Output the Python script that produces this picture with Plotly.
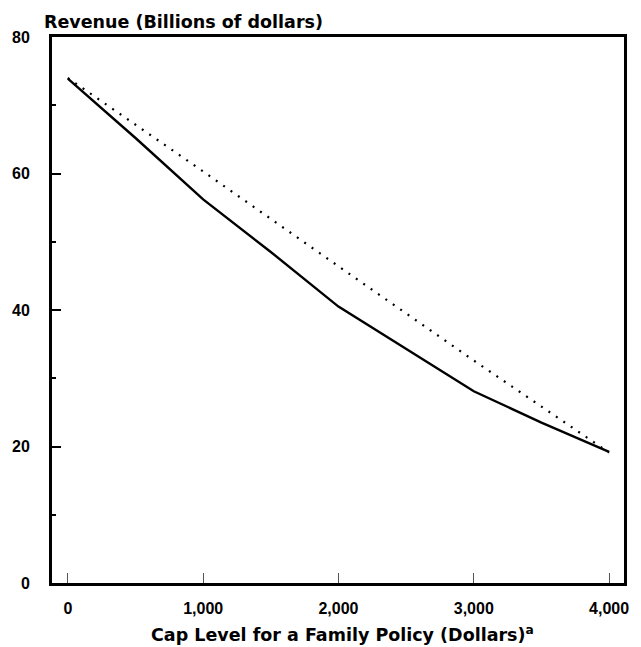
import plotly.graph_objects as go

cap_levels = [0, 500, 1000, 1500, 2000, 2500, 3000, 3500, 4000]
revenue_solid = [73.9, 65.2, 56.2, 48.5, 40.5, 34.3, 28.1, 23.5, 19.2]

cap_levels_dotted = [0, 1000, 2000, 3000, 4000]
revenue_dotted = [74.0, 60.3, 46.4, 32.6, 19.1]

x_tickvals = [0, 1000, 2000, 3000, 4000]
x_ticktext = ["0", "1,000", "2,000", "3,000", "4,000"]
y_tickvals = [0, 20, 40, 60, 80]
y_ticktext = ["0", "20", "40", "60", "80"]

FONT = "Liberation Sans, Arial, Helvetica, sans-serif"
TITLE_FONT = "DejaVu Sans, Liberation Sans, sans-serif"

fig = go.Figure()
fig.add_trace(go.Scatter(x=cap_levels_dotted, y=revenue_dotted, mode="lines",
                         line=dict(color="black", width=2.2, dash="2px,7px"),
                         showlegend=False, hoverinfo="skip"))
fig.add_trace(go.Scatter(x=cap_levels, y=revenue_solid, mode="lines",
                         line=dict(color="black", width=2.4),
                         showlegend=False, hoverinfo="skip"))

fig.update_layout(
    width=641, height=647,
    margin=dict(l=46, r=15, t=37, b=64),
    paper_bgcolor="white", plot_bgcolor="white",
    font=dict(family=FONT, color="black"),
    xaxis=dict(range=[-117, 4110], tickvals=x_tickvals, ticktext=x_ticktext,
               ticks="inside", ticklen=10, tickwidth=1, tickcolor="#555",
               showline=True, linecolor="black", linewidth=3, mirror=True,
               showgrid=False, zeroline=False,
               tickfont=dict(size=16, family=FONT, weight="bold"),
               ticklabelstandoff=9),
    yaxis=dict(range=[0, 80], tickvals=y_tickvals, ticktext=y_ticktext,
               ticks="inside", ticklen=9, tickwidth=2, tickcolor="black",
               showline=True, linecolor="black", linewidth=3, mirror=True,
               showgrid=False, zeroline=False,
               tickfont=dict(size=16, family=FONT, weight="bold"),
               ticklabelstandoff=16,
               minor=dict(tickvals=[10, 30, 50, 70], ticks="inside", ticklen=4,
                          tickwidth=1.5, tickcolor="black", showgrid=False)),
    annotations=[
        dict(text="Revenue (Billions of dollars)", xref="paper", yref="paper",
             x=0, y=1, xanchor="left", yanchor="bottom", xshift=-10, yshift=3,
             showarrow=False, font=dict(size=17.5, family=TITLE_FONT, weight="bold")),
        dict(text="Cap Level for a Family Policy (Dollars)<sup>a</sup>",
             xref="paper", yref="paper", x=0.5, y=0, xanchor="center",
             yanchor="top", xshift=4, yshift=-38, showarrow=False,
             font=dict(size=17.5, family=TITLE_FONT, weight="bold")),
    ],
)

fig.write_html("out.html", config={"displayModeBar": False},
               post_script="document.body.style.margin='0';")
